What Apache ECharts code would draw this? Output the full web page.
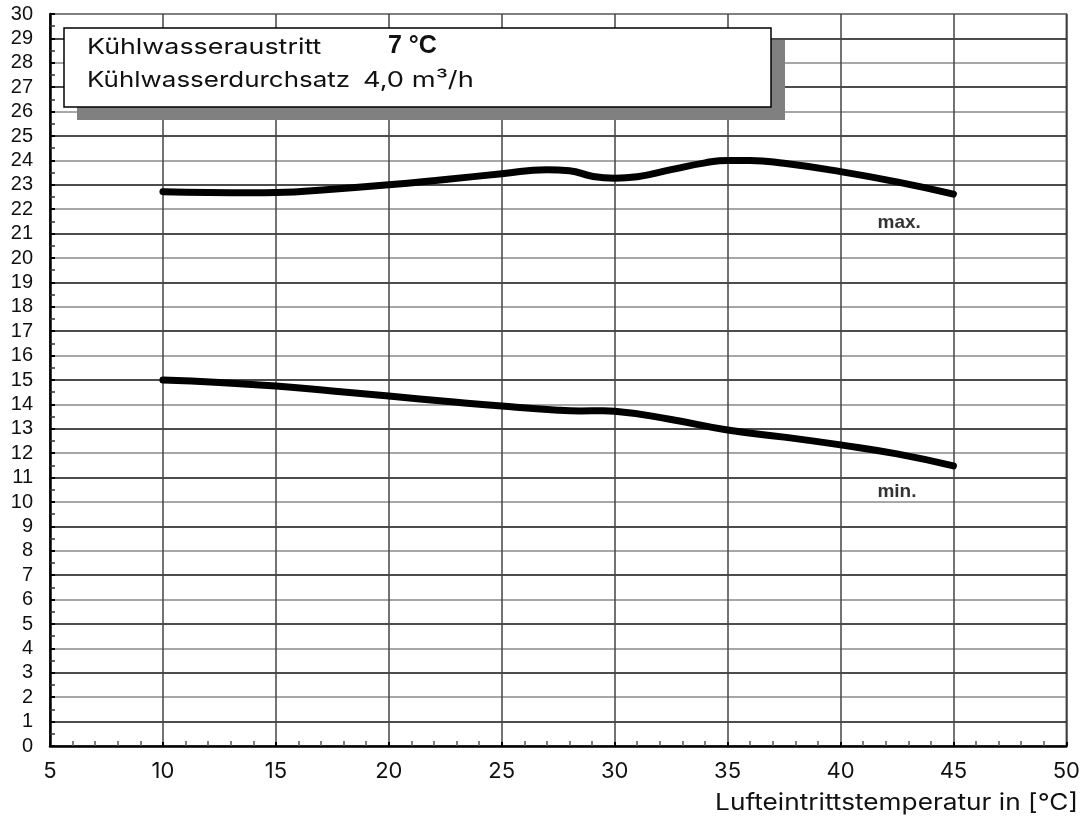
<!DOCTYPE html>
<html><head><meta charset="utf-8">
<script src="https://cdn.jsdelivr.net/npm/echarts@6/dist/echarts.min.js"></script>
<style>html,body{margin:0;padding:0;background:#fff}#c{width:1083px;height:820px}</style>
</head><body><div id="c"></div>
<script>
// x: Lufteintrittstemperatur [°C], y: value
const maxX = [10, 12, 14, 15, 17.5, 20, 22.5, 25, 27, 28, 29, 30, 31, 32.5, 34, 35, 36, 37.5, 40, 42.5, 45];
const maxY = [22.72, 22.68, 22.67, 22.68, 22.82, 23.0, 23.22, 23.45, 23.62, 23.58, 23.35, 23.27, 23.33, 23.62, 23.9, 24.0, 24.0, 23.88, 23.54, 23.12, 22.62];
const minX = [10, 12.5, 15, 17.5, 20, 22.5, 25, 27.5, 28.5, 29.5, 30, 32.5, 35, 37.5, 40, 42.5, 45];
const minY = [15.0, 14.9, 14.75, 14.55, 14.34, 14.13, 13.93, 13.76, 13.73, 13.74, 13.72, 13.38, 12.95, 12.66, 12.34, 11.97, 11.48];
const curveLabels = ['max.', 'min.'];
const labelPos = [[42.6, 21.43], [42.5, 10.4]];
const xAxisName = 'Lufteintrittstemperatur in [°C]';
const infoLines = [['Kühlwasseraustritt', '7 °C'], ['Kühlwasserdurchsatz', '4,0 m³/h']];

const pair = (xs, ys) => xs.map((x, i) => [x, ys[i]]);
const chart = echarts.init(document.getElementById('c'));
const FONT = 'Liberation Sans, Arial, sans-serif';
const FONT2 = 'Inter, Roboto, sans-serif';
chart.setOption({
  animation: false,
  backgroundColor: '#fff',
  grid: { left: 50, right: 15, top: 14, bottom: 74, show: true, borderColor: '#333', borderWidth: 1.5 },
  xAxis: {
    type: 'value', min: 5, max: 50, interval: 5,
    axisLine: { lineStyle: { color: '#000', width: 2.5 } },
    axisTick: { inside: true, length: 4, lineStyle: { color: '#000', width: 2 } },
    minorTick: { show: true, splitNumber: 5, length: 5, lineStyle: { color: '#555', width: 1.5 } },
    splitLine: { show: true, lineStyle: { color: '#444', width: 1.5 } },
    axisLabel: { fontSize: 22, color: '#111', margin: 14, fontFamily: FONT2 }
  },
  yAxis: {
    type: 'value', min: 0, max: 30, interval: 1,
    axisLine: { lineStyle: { color: '#000', width: 2.5 } },
    axisTick: { inside: true, length: 5, lineStyle: { color: '#000', width: 2 } },
    minorTick: { show: true, splitNumber: 2, length: 5, lineStyle: { color: '#333', width: 1.5 } },
    splitLine: { show: true, lineStyle: { color: ['#8a8a8a', '#111'], width: 1.5 } },
    axisLabel: { fontSize: 20, color: '#111', margin: 17, fontFamily: FONT }
  },
  series: [
    { type: 'line', data: pair(maxX, maxY), smooth: 0.5, symbol: 'none',
      lineStyle: { color: '#000', width: 7, cap: 'round', join: 'round' }, z: 5 },
    { type: 'line', data: pair(minX, minY), smooth: 0.5, symbol: 'none',
      lineStyle: { color: '#000', width: 7, cap: 'round', join: 'round' }, z: 5 },
    { type: 'scatter', symbolSize: 0, data: labelPos.map((p, i) => ({ value: p, name: curveLabels[i] })),
      label: { show: true, position: 'inside', formatter: p => p.name, fontSize: 19, fontWeight: 'bold', color: '#000', fontFamily: FONT }, z: 6 }
  ],
  graphic: [
    { type: 'rect', shape: { x: 77, y: 40, width: 708, height: 80 }, style: { fill: '#808080' }, z: 10 },
    { type: 'rect', shape: { x: 64, y: 28, width: 707, height: 79 }, style: { fill: '#fff', stroke: '#000', lineWidth: 1.5 }, z: 11 },
    { type: 'text', x: 87, y: 47, scaleX: 1.22, style: { text: infoLines[0][0], font: '22px ' + FONT2, fill: '#111', textVerticalAlign: 'middle' }, z: 12 },
    { type: 'text', x: 388, y: 46, style: { text: infoLines[0][1], font: 'bold 25px ' + FONT, fill: '#111', textVerticalAlign: 'middle' }, z: 12 },
    { type: 'text', x: 87, y: 80, scaleX: 1.18, style: { text: infoLines[1][0], font: '22px ' + FONT2, fill: '#111', textVerticalAlign: 'middle' }, z: 12 },
    { type: 'text', x: 363, y: 80, scaleX: 1.24, style: { text: infoLines[1][1], font: '22px ' + FONT2, fill: '#111', textVerticalAlign: 'middle' }, z: 12 },
    { type: 'text', x: 1078, y: 803, scaleX: 1.14, style: { text: xAxisName, font: '23px ' + FONT2, fill: '#111', textAlign: 'right', textVerticalAlign: 'middle' }, z: 12 }
  ]
});
</script></body></html>
